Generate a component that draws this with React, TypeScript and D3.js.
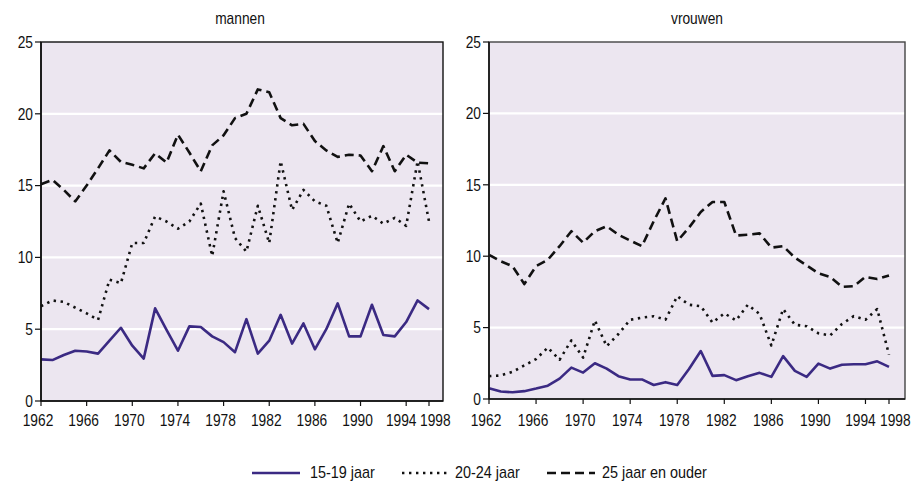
import React from "react";
import * as d3 from "d3";

const years = [1962, 1963, 1964, 1965, 1966, 1967, 1968, 1969, 1970, 1971, 1972, 1973, 1974, 1975, 1976, 1977, 1978, 1979, 1980, 1981, 1982, 1983, 1984, 1985, 1986, 1987, 1988, 1989, 1990, 1991, 1992, 1993, 1994, 1995, 1996];

const men1519 = [2.9, 2.85, 3.2, 3.5, 3.45, 3.3, 4.2, 5.1, 3.85, 2.95, 6.45, 4.95, 3.5, 5.2, 5.15, 4.5, 4.1, 3.4, 5.7, 3.3, 4.2, 6.0, 4.0, 5.4, 3.6, 5.0, 6.8, 4.5, 4.5, 6.7, 4.6, 4.5, 5.5, 7.0, 6.4];
const men2024 = [6.6, 7.0, 6.9, 6.5, 6.1, 5.65, 8.45, 8.2, 11.0, 11.0, 12.85, 12.5, 12.0, 12.5, 13.75, 10.1, 14.6, 11.35, 10.4, 13.6, 11.0, 16.7, 13.3, 14.7, 13.9, 13.6, 11.0, 13.75, 12.5, 12.9, 12.35, 12.75, 12.2, 16.7, 12.5];
const men25 = [15.1, 15.4, 14.7, 13.9, 15.0, 16.2, 17.45, 16.65, 16.45, 16.2, 17.25, 16.6, 18.55, 17.3, 16.0, 17.8, 18.5, 19.7, 20.0, 21.7, 21.5, 19.7, 19.2, 19.3, 18.1, 17.45, 17.0, 17.15, 17.1, 16.0, 17.75, 16.0, 17.15, 16.6, 16.55];

const women1519 = [0.75, 0.52, 0.47, 0.55, 0.73, 0.93, 1.43, 2.2, 1.85, 2.5, 2.13, 1.6, 1.37, 1.37, 0.98, 1.18, 0.98, 2.1, 3.36, 1.62, 1.67, 1.32, 1.6, 1.83, 1.55, 3.0, 1.97, 1.55, 2.48, 2.13, 2.4, 2.43, 2.43, 2.64, 2.25];
const women2024 = [1.6, 1.65, 1.9, 2.35, 2.8, 3.6, 2.75, 4.1, 2.9, 5.5, 3.7, 4.55, 5.55, 5.7, 5.8, 5.55, 7.2, 6.6, 6.5, 5.35, 6.0, 5.5, 6.6, 5.95, 3.75, 6.3, 5.2, 5.1, 4.6, 4.45, 5.25, 5.8, 5.55, 6.3, 3.1];
const women25 = [10.1, 9.65, 9.3, 8.05, 9.3, 9.75, 10.7, 11.75, 10.95, 11.75, 12.1, 11.5, 11.1, 10.7, 12.45, 14.05, 11.05, 12.0, 13.1, 13.8, 13.8, 11.45, 11.5, 11.6, 10.6, 10.7, 9.9, 9.35, 8.8, 8.55, 7.85, 7.9, 8.55, 8.4, 8.65];

const yTicks = [0, 5, 10, 15, 20, 25];
const gridValues = [5, 10, 15, 20];
const xTickYears = [1962, 1966, 1970, 1974, 1978, 1982, 1986, 1990, 1994, 1996];
const xTickLabels = ["1962", "1966", "1970", "1974", "1978", "1982", "1986", "1990", "1994", "1998"];
const panelTitles = ["mannen", "vrouwen"];
const seriesNames = ["15-19 jaar", "20-24 jaar", "25 jaar en ouder"];

const FONT = "'Liberation Sans', Arial, sans-serif";
const PURPLE = "#3b2a83";
const BG = "#ece6f0";
const SX = 0.86;

const seriesStyles = [
  { stroke: PURPLE, dash: null as string | null, width: 2.6 },
  { stroke: "#111", dash: "2.4,4.6", width: 2.6 },
  { stroke: "#111", dash: "9,5", width: 2.6 },
];

const panels = [
  { title: panelTitles[0], data: [men1519, men2024, men25], left: 41, right: 443, lastX: 429, top: 42, bottom: 401, frame: "#111", titleX: 240 },
  { title: panelTitles[1], data: [women1519, women2024, women25], left: 489, right: 905, lastX: 889, top: 42, bottom: 399, frame: "#444", titleX: 697 },
];

function NText({ x, y, anchor, size, sx, children }: { x: number; y: number; anchor: string; size: number; sx: number; children: React.ReactNode }) {
  return (
    <text
      transform={`translate(${x},${y}) scale(${sx},1)`}
      textAnchor={anchor}
      fontFamily={FONT}
      fontSize={size}
      fill="#111"
    >
      {children}
    </text>
  );
}

function Panel({ p }: { p: (typeof panels)[number] }) {
  const x = d3.scaleLinear().domain([years[0], years[years.length - 1]]).range([p.left, p.lastX]);
  const y = d3.scaleLinear().domain([0, 25]).range([p.bottom, p.top]);
  const line = d3
    .line<number>()
    .x((_, i) => x(years[i]))
    .y((d) => y(d));
  const n = xTickYears.length;
  return (
    <g>
      <NText x={p.titleX} y={24} anchor="middle" size={16} sx={SX}>
        {p.title}
      </NText>
      <rect x={p.left} y={p.top} width={p.right - p.left} height={p.bottom - p.top} fill={BG} />
      {gridValues.map((v) => (
        <line key={v} x1={p.left} x2={p.right} y1={y(v)} y2={y(v)} stroke="#fff" strokeWidth={2.2} />
      ))}
      {p.data.map((s, i) => (
        <path
          key={i}
          d={line(s) || ""}
          fill="none"
          stroke={seriesStyles[i].stroke}
          strokeWidth={seriesStyles[i].width}
          strokeDasharray={seriesStyles[i].dash || undefined}
          strokeLinejoin="round"
        />
      ))}
      <rect x={p.left} y={p.top} width={p.right - p.left} height={p.bottom - p.top} fill="none" stroke={p.frame} strokeWidth={1.4} />
      <line x1={p.left} x2={p.left} y1={p.top} y2={p.bottom} stroke="#111" strokeWidth={1.6} />
      <line x1={p.left} x2={p.right} y1={p.bottom} y2={p.bottom} stroke="#111" strokeWidth={1.6} />
      {yTicks.map((v) => (
        <g key={v}>
          <line x1={p.left - 6} x2={p.left} y1={y(v)} y2={y(v)} stroke="#111" strokeWidth={1.2} />
          <NText x={p.left - 8} y={y(v) + 5.8} anchor="end" size={16} sx={SX}>
            {v}
          </NText>
        </g>
      ))}
      {xTickYears.map((yr, i) => {
        const last = i === n - 1;
        const prev = i === n - 2;
        const tx = last ? x(yr) - 9 : prev ? x(yr) - 5 : x(yr) - 3;
        return (
          <g key={yr}>
            <line x1={x(yr)} x2={x(yr)} y1={p.bottom} y2={p.bottom + 5} stroke="#111" strokeWidth={1.2} />
            <NText x={tx} y={426} anchor={last ? "start" : "middle"} size={16} sx={SX}>
              {xTickLabels[i]}
            </NText>
          </g>
        );
      })}
    </g>
  );
}

const legendItems = [
  { x1: 252, x2: 300, tx: 310 },
  { x1: 402, x2: 449, tx: 455 },
  { x1: 547, x2: 595, tx: 602 },
];

export default function App() {
  return (
    <svg width={914} height={481} style={{ position: "absolute", left: 0, top: 0, background: "#fff" }}>
      {panels.map((p) => (
        <Panel key={p.title} p={p} />
      ))}
      {legendItems.map((l, i) => (
        <g key={i}>
          <line
            x1={l.x1}
            x2={l.x2}
            y1={473}
            y2={473}
            stroke={seriesStyles[i].stroke}
            strokeWidth={seriesStyles[i].width}
            strokeDasharray={seriesStyles[i].dash || undefined}
          />
          <NText x={l.tx} y={477.5} anchor="start" size={16} sx={0.9}>
            {seriesNames[i]}
          </NText>
        </g>
      ))}
    </svg>
  );
}
